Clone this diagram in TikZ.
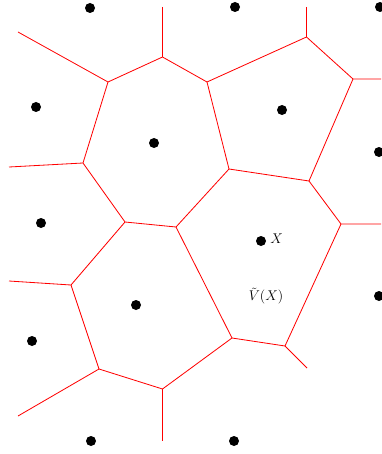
\documentclass[tikz,border=0pt]{standalone}
\usepackage{amsmath,amssymb}
\usepackage{tikz}
\usetikzlibrary{positioning}

\begin{document}
\begin{tikzpicture}[
  x=0.03cm, y=-0.03cm, font=\fontsize{13}{15}\selectfont,
  site/.style={circle, fill=black, inner sep=0pt, minimum size=0.3cm},
  cell/.style={draw=red, line width=0.7pt}
]
\useasboundingbox (0,0) rectangle (381,454);
% sites
\node[site] (s1) at (90,8) {};
\node[site] (s2) at (235,7) {};
\node[site] (s3) at (380,7) {};
\node[site] (s4) at (36,107) {};
\node[site] (s5) at (282,110) {};
\node[site] (s6) at (154,143) {};
\node[site] (s7) at (379,152) {};
\node[site] (s8) at (41,223) {};
\node[site] (sx) at (261,241) {};
\node[site] (s9) at (379,296) {};
\node[site] (s10) at (136,305) {};
\node[site] (s11) at (32,341) {};
\node[site] (s12) at (91,441) {};
\node[site] (s13) at (234,441) {};
\node[right=0pt of sx, yshift=2pt] (lx) {$X$};
\node (lv) at (266,296) {$\tilde{V}(X)$};
% cell vertices
\coordinate (a) at (162.5,57);
\coordinate (b) at (108,82);
\coordinate (c) at (207,82);
\coordinate (d) at (306.5,37);
\coordinate (e) at (353,79);
\coordinate (f) at (83,163);
\coordinate (g) at (229,169);
\coordinate (h) at (309,181);
\coordinate (i) at (125,222);
\coordinate (j) at (176,227);
\coordinate (k) at (341,224);
\coordinate (l) at (71,285);
\coordinate (m) at (232,338);
\coordinate (n) at (285,346);
\coordinate (o) at (99,369);
\coordinate (p) at (162.5,389);
% open ends
\coordinate (t1) at (162.5,7);
\coordinate (t2) at (306.5,7);
\coordinate (w1) at (18,32);
\coordinate (w2) at (9,167);
\coordinate (w3) at (9,281);
\coordinate (w4) at (18,416);
\coordinate (r1) at (381,79);
\coordinate (r2) at (381,224);
\coordinate (u1) at (162.5,441);
\coordinate (u2) at (307,368);
% edges
\draw[cell] (w1) -- (b) -- (a) -- (c) -- (d) -- (e) -- (r1);
\draw[cell] (t1) -- (a);
\draw[cell] (t2) -- (d);
\draw[cell] (b) -- (f) -- (i) -- (j) -- (g) -- (c);
\draw[cell] (w2) -- (f);
\draw[cell] (e) -- (h) -- (g);
\draw[cell] (h) -- (k) -- (r2);
\draw[cell] (k) -- (n) -- (m) -- (j);
\draw[cell] (n) -- (u2);
\draw[cell] (i) -- (l) -- (w3);
\draw[cell] (l) -- (o) -- (p) -- (m);
\draw[cell] (o) -- (w4);
\draw[cell] (p) -- (u1);
\end{tikzpicture}
\end{document}
